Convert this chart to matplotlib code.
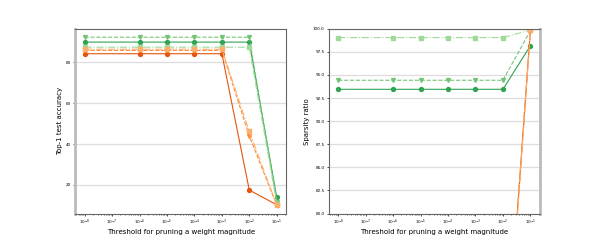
import matplotlib
matplotlib.use("Agg")
import matplotlib.pyplot as plt
import numpy as np

thresholds = [1e-8, 1e-6, 1e-5, 1e-4, 1e-3, 1e-2, 1e-1]

# Top-1 accuracy
acc_g_circle = [90.0, 90.0, 90.0, 90.0, 90.0, 90.0, 13.8]
acc_g_tri = [92.4, 92.4, 92.4, 92.4, 92.4, 92.4, 11.8]
acc_g_sq = [87.5, 87.5, 87.5, 87.5, 87.5, 87.5, 10.8]
acc_o_circle = [84.3, 84.3, 84.3, 84.3, 84.3, 17.4, 10.2]
acc_o_tri = [85.9, 85.9, 85.9, 85.9, 85.9, 43.9, 10.0]
acc_o_sq = [86.5, 86.5, 86.5, 86.5, 86.5, 46.2, 10.0]

# Sparsity ratio
sp_g_circle = [93.45, 93.45, 93.45, 93.45, 93.45, 93.45, 98.17]
sp_g_tri = [94.43, 94.43, 94.43, 94.43, 94.43, 94.43, 99.8]
sp_g_sq = [99.05, 99.05, 99.05, 99.05, 99.05, 99.05, 99.87]
sp_o_circle = [45.0, 45.0, 45.0, 45.0, 45.0, 58.5, 99.85]
sp_o_tri = [44.0, 44.0, 44.0, 44.0, 44.0, 58.0, 99.85]
sp_o_sq = [43.0, 43.0, 43.0, 43.0, 43.0, 57.5, 99.85]

styles = [
    ("#31a354", "-", "o"),
    ("#74c476", "--", "v"),
    ("#a1d99b", "-.", "s"),
    ("#e6550d", "-", "o"),
    ("#fd8d3c", "--", "v"),
    ("#fdae6b", "-.", "s"),
]

fig, (ax1, ax2) = plt.subplots(1, 2, figsize=(6, 2.4), dpi=100)

acc = [acc_g_circle, acc_g_tri, acc_g_sq, acc_o_circle, acc_o_tri, acc_o_sq]
sp = [sp_g_circle, sp_g_tri, sp_g_sq, sp_o_circle, sp_o_tri, sp_o_sq]

for ax, data in ((ax1, acc), (ax2, sp)):
    for (c, ls, m), vals in zip(styles, data):
        ax.plot(thresholds, vals, color=c, linestyle=ls, marker=m,
                markersize=2.8, linewidth=0.8)
    ax.set_xscale("log")
    ax.grid(axis="y", color="#dddddd", linewidth=0.9)
    ax.set_axisbelow(True)
    ax.set_xlabel("Threshold for pruning a weight magnitude", fontsize=5, labelpad=1.5)
    ax.tick_params(axis="both", labelsize=3, length=1.5, width=0.5, pad=1.5)
    ax.tick_params(axis="x", which="minor", length=1, width=0.4)
    for s in ax.spines.values():
        s.set_color("#666666")
        s.set_linewidth(0.8)

ax1.set_xticks([1e-8, 1e-7, 1e-6, 1e-5, 1e-4, 1e-3, 1e-2, 1e-1])
ax2.set_xticks([1e-8, 1e-7, 1e-6, 1e-5, 1e-4, 1e-3, 1e-2, 1e-1])
ax1.set_ylabel("Top-1 test accuracy", fontsize=5, labelpad=2)
ax1.set_yticks([20, 40, 60, 80])
ax1.spines["left"].set_color("#bbbbbb")
ax1.spines["left"].set_linewidth(2)

ax2.set_ylim(80, 100)
ax2.set_yticks(np.arange(80, 100.1, 2.5))
ax2.yaxis.set_major_formatter(matplotlib.ticker.FormatStrFormatter("%.1f"))
ax2.set_ylabel("Sparsity ratio", fontsize=5, labelpad=2)
ax2.spines["right"].set_color("#bbbbbb")
ax2.spines["right"].set_linewidth(2)

fig.savefig("out.png", dpi=100)
